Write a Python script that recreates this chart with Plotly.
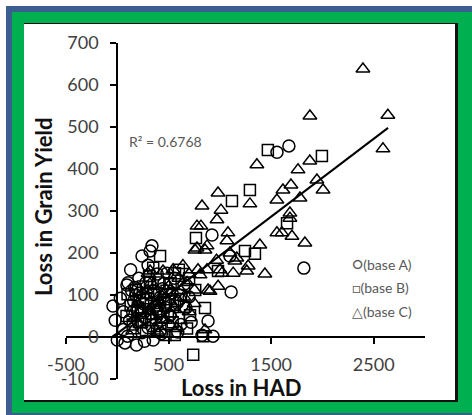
import plotly.graph_objects as go

# ---------------- data ----------------
base_a_x = [1673, 1557, 1819, 1098, 1110, 923, 885, 933, 826, 241, 338, 320, 300, 484, 222,
            105, 94, -42, 0, 75, 187, 350, 265, 430, 535, 584, 515, 670, 620, 700, 650, 150,
            200, 250, 300, 380, 420, 470, 350, 280, 180, 120, 60, 30, 240, 320, 400, 455, 130,
            210, 160, 500, 590, 720, 100, -20, 170, 560, 390, 60, 440, 330,
            270, 360, 430, 190, 520, 610, 140]
base_a_y = [455, 440, 164, 193, 107, 243, 38, 2, 4, 193, 217, 205, 171, 152, 105,
            129, 124, 74, -7, -14, -19, -7, -10, 8, 105, 81, 52, 69, 30, 95, 125, 60,
            40, 80, 22, 32, 95, 70, 110, 130, 100, 40, 18, 92, 10, 55, 60, 128, 160,
            140, 85, 28, 12, 35, 2, 40, 118, 140, 150, 60, 115, 80,
            45, 70, 40, 65, 75, 90, 110]

base_b_x = [1468, 1995, 1293, 1118, 767, 1655, 1245, 1342, 417, 563, 982, 855, 709, 836, 740,
            319, 417, 563, 150, 200, 280, 330, 390, 450, 500, 600, 650, 250, 310, 180, 420,
            470, 620, 700, 360, 230, 130, 540, 680, 280, 100, 400, 520, 760, 350, 600, 90,
            480, 560, 220, 300, 380, 460, 240]
base_b_y = [445, 431, 350, 324, 236, 271, 205, 198, 193, 152, 157, 69, 52, 2, -42,
            129, 62, 86, 30, 70, 92, 40, 75, 48, 90, 45, 72, 120, 145, 112, 20,
            5, 100, 140, 100, 58, 75, 35, 20, 15, 102, 130, 128, 112, 165, 160, 50,
            110, 5, 88, 105, 55, 82, 35]

base_c_x = [2395, 1878, 2638, 2590, 1361, 1877, 1762, 1946, 2006, 1693, 1615, 1781, 1556, 1293,
            1683, 1683, 1556, 1605, 1703, 1829, 1390, 1165, 1276, 1439, 1130, 1262, 982, 826,
            1011, 972, 777, 816, 1079, 777, 875, 1069, 1098, 1147, 968, 807, 875, 1001, 904,
            752, 757, 855, 1021, 787, 885, 983, 855, 300, 320, 446, 544, 640, 700, 450, 380,
            300, 220, 150, 500, 600, 650, 550, 470, 400, 330, 260, 200, 700, 580, 750, 680,
            620, 350, 410, 290, 520, 360, 240, 170]
base_c_y = [638, 526, 528, 448, 410, 419, 398, 374, 350, 362, 350, 331, 326, 317,
            295, 283, 248, 248, 240, 224, 219, 188, 169, 150, 152, 157, 343, 312,
            302, 279, 264, 264, 248, 212, 217, 229, 200, 181, 183, 148, 160, 160, 109,
            112, 207, 207, 152, 160, 112, 121, 17, 152, 157, 157, 160, 170, 150, 100, 80,
            62, 30, 15, 120, 140, 95, 70, 40, 10, 130, 100, 80, 60, 20, 80, 130,
            110, 50, 85, 110, 55, 20, 65, 45]

trend_x = [-40, 2640]
trend_y = [1, 498]

x_tickvals = [-500, 500, 1500, 2500]
x_ticktext = ["-500", "500", "1500", "2500"]
y_tickvals = [-100, 0, 100, 200, 300, 400, 500, 600, 700]
y_ticktext = ["-100", "0", "100", "200", "300", "400", "500", "600", "700"]

series_names = ["(base A)", "(base B)", "(base C)"]
legend_glyphs = ["○", "□", "△"]
r2_text = "R² = 0.6768"
x_title = "Loss in HAD"
y_title = "Loss in Grain Yield"

# ---------------- figure ----------------
W, H = 472, 415
ML, MR, MT, MB = 66, 47, 43, 36
PW, PH = W - ML - MR, H - MT - MB


def px(p):
    return (p - ML) / PW


def py(p):
    return (H - MB - p) / PH


fig = go.Figure()
mk = dict(color="black", size=11, line=dict(width=1.5, color="black"))
fig.add_trace(go.Scatter(x=base_a_x, y=base_a_y, mode="markers", name=series_names[0],
                         marker=dict(mk, symbol="circle-open", size=12), showlegend=False))
fig.add_trace(go.Scatter(x=base_b_x, y=base_b_y, mode="markers", name=series_names[1],
                         marker=dict(mk, symbol="square-open", size=11), showlegend=False))
fig.add_trace(go.Scatter(x=base_c_x, y=base_c_y, mode="markers", name=series_names[2],
                         marker=dict(mk, symbol="triangle-up-open", size=12), showlegend=False))
fig.add_trace(go.Scatter(x=trend_x, y=trend_y, mode="lines", line=dict(color="black", width=2),
                         showlegend=False, hoverinfo="skip"))

shapes = []
for (x0, y0, x1, y1, c) in [(6, 6, 490, 430, "#3c5e8e"),
                            (12, 12, 490, 413, "#00b050"),
                            (24, 23, 458, 402, "#111111"),
                            (24, 24, 455, 400, "white")]:
    shapes.append(dict(type="rect", xref="paper", yref="paper", layer="below",
                       x0=px(x0), x1=px(x1), y0=py(y1), y1=py(y0),
                       fillcolor=c, line=dict(width=0)))

tickfont = dict(family="Lato", size=18, color="#404040")
annotations = [
    dict(x=px(127), y=py(141), xref="paper", yref="paper", text=r2_text, showarrow=False,
         xanchor="left", yanchor="middle", font=dict(family="Lato", size=14, color="#595959")),
    dict(x=px(241), y=py(387), xref="paper", yref="paper", text="<b>" + x_title + "</b>",
         showarrow=False, xanchor="center", yanchor="middle",
         font=dict(family="Lato", size=22, color="#111111")),
    dict(x=px(43), y=py(207), xref="paper", yref="paper", text="<b>" + y_title + "</b>",
         showarrow=False, textangle=-90, xanchor="center", yanchor="middle",
         font=dict(family="Lato", size=22, color="#111111")),
]
glyph_sizes = [17, 14, 14]
for i, (g, n) in enumerate(zip(legend_glyphs, series_names)):
    annotations.append(dict(x=px(350), y=py(263 + 24 * i), xref="paper", yref="paper",
                            text="<span style='font-size:%dpx'>" % glyph_sizes[i] + g + "</span>" + n,
                            showarrow=False, xanchor="left", yanchor="middle",
                            font=dict(family="Lato", size=14, color="#595959")))

fig.update_layout(
    width=W, height=H, margin=dict(l=ML, r=MR, t=MT, b=MB, pad=0),
    paper_bgcolor="white", plot_bgcolor="rgba(0,0,0,0)",
    shapes=shapes, annotations=annotations, showlegend=False,
    xaxis=dict(range=[-500, 3000], tickvals=x_tickvals, ticktext=x_ticktext,
               showline=True, linecolor="black", linewidth=2, ticks="outside", ticklen=6,
               tickwidth=2, tickcolor="black", showgrid=False, zeroline=False,
               anchor="free", position=0.125, tickfont=tickfont, ticklabelstandoff=5),
    yaxis=dict(range=[-100, 700], tickvals=y_tickvals, ticktext=y_ticktext,
               showline=True, linecolor="black", linewidth=2, ticks="outside", ticklen=6,
               tickwidth=2, tickcolor="black", showgrid=False, zeroline=False,
               anchor="free", position=500 / 3500, tickfont=tickfont, ticklabelstandoff=8),
)

fig.write_html("out.html")
